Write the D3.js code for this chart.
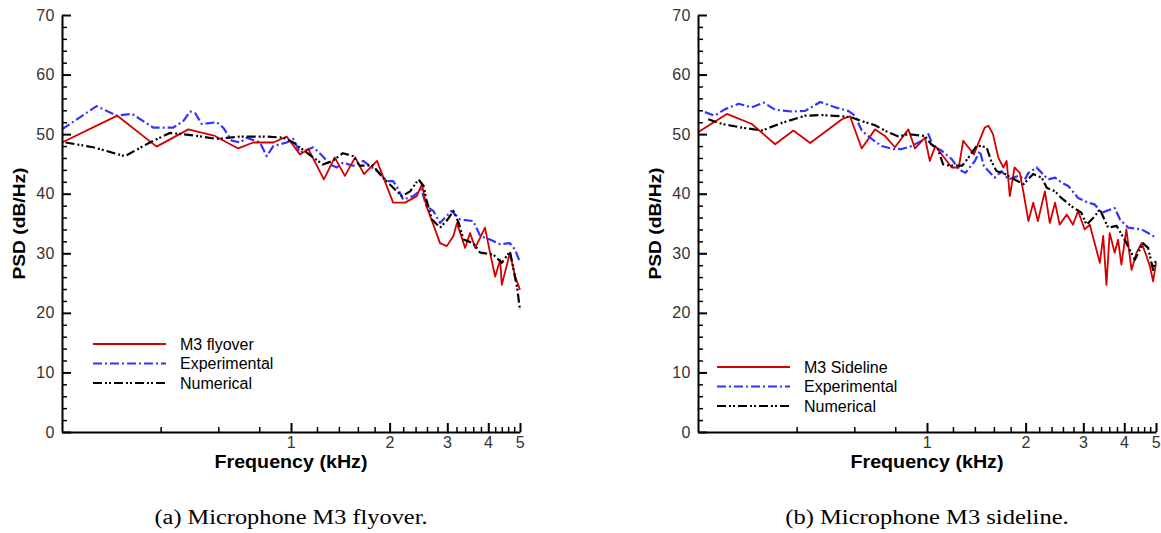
<!DOCTYPE html>
<html>
<head>
<meta charset="utf-8">
<script src="https://cdn.jsdelivr.net/npm/d3@7"></script>
<style>
  body { margin: 0; background: #fff; }
  svg { display: block; font-family: "Liberation Sans", Arial, sans-serif; }
  .tick text { font-size: 16px; fill: #333; letter-spacing: 0.5px; }
  .caption { font-family: "Liberation Serif", serif; font-size: 20px; }
</style>
</head>
<body>
<svg id="chart" width="1161" height="533"></svg>
<script>
// frequency in kHz, PSD in dB/Hz
var flyoverM3 = [[0.2,48.6],[0.295,53.1],[0.389,47.9],[0.486,50.8],[0.586,49.7],[0.69,47.6],[0.767,48.6],[0.883,48.6],[0.97,49.6],[1.065,46.6],[1.13,47.5],[1.26,42.4],[1.36,46.1],[1.46,43.0],[1.57,46.1],[1.67,43.3],[1.83,45.5],[2.05,38.5],[2.23,38.5],[2.42,39.6],[2.51,41.6],[2.59,37.9],[2.72,34.8],[2.85,31.7],[2.99,31.2],[3.13,32.9],[3.21,35.1],[3.4,30.9],[3.52,33.4],[3.65,30.9],[3.91,34.3],[4.05,30.1],[4.2,26.1],[4.35,28.9],[4.4,24.7],[4.66,30.1],[4.83,26.1],[5.0,23.9]];

var flyoverExp = [[0.2,50.8],[0.255,54.7],[0.294,53.1],[0.327,53.4],[0.38,51.1],[0.437,51.1],[0.469,52.2],[0.492,53.8],[0.51,53.5],[0.534,51.7],[0.593,52.0],[0.621,51.1],[0.659,48.9],[0.7,48.6],[0.732,49.4],[0.804,48.6],[0.843,46.3],[0.883,48.0],[0.97,48.6],[1.016,49.2],[1.065,46.9],[1.17,47.8],[1.25,46.3],[1.315,44.9],[1.38,44.4],[1.44,45.2],[1.55,44.7],[1.66,45.5],[1.83,43.8],[1.96,42.1],[2.05,42.1],[2.1,41.3],[2.2,39.0],[2.36,39.6],[2.5,40.7],[2.59,37.9],[2.72,37.1],[2.85,35.1],[3.09,37.1],[3.28,35.7],[3.6,35.4],[3.78,32.9],[4.05,32.3],[4.35,31.5],[4.66,31.7],[4.83,30.6],[5.0,28.5]];

var flyoverNum = [[0.205,48.6],[0.249,47.8],[0.311,46.3],[0.371,48.6],[0.427,50.2],[0.503,49.8],[0.593,49.2],[0.699,49.6],[0.843,49.6],[0.947,49.4],[1.016,48.6],[1.117,46.9],[1.25,44.9],[1.34,45.5],[1.44,46.8],[1.55,46.3],[1.62,44.7],[1.78,44.7],[1.89,43.0],[2.0,41.6],[2.18,39.6],[2.31,40.4],[2.45,42.4],[2.54,41.3],[2.59,39.0],[2.69,35.7],[2.85,34.3],[2.99,35.5],[3.13,37.1],[3.25,35.1],[3.36,32.3],[3.6,31.7],[3.78,30.1],[4.14,29.8],[4.4,28.4],[4.66,30.3],[4.78,27.2],[4.9,24.2],[5.0,20.5]];

var sidelineM3 = [[0.2,50.3],[0.245,53.4],[0.292,51.7],[0.344,48.3],[0.391,50.6],[0.44,48.5],[0.55,52.5],[0.582,53.0],[0.632,47.6],[0.694,50.8],[0.744,49.7],[0.798,47.8],[0.877,50.8],[0.919,47.6],[0.986,49.4],[1.02,45.5],[1.06,48.0],[1.12,46.3],[1.19,44.4],[1.25,44.4],[1.29,48.9],[1.39,46.6],[1.5,51.1],[1.54,51.4],[1.59,50.0],[1.65,46.1],[1.71,44.4],[1.75,45.5],[1.79,39.6],[1.85,44.4],[1.92,43.5],[1.97,40.2],[2.04,35.4],[2.11,38.5],[2.18,35.4],[2.29,40.4],[2.37,35.1],[2.46,38.5],[2.54,34.8],[2.67,36.5],[2.79,34.8],[2.89,37.1],[3.03,34.0],[3.14,34.8],[3.25,31.7],[3.37,28.4],[3.45,32.9],[3.53,24.7],[3.61,33.4],[3.74,30.1],[3.83,32.3],[3.92,28.1],[4.06,34.0],[4.21,27.2],[4.36,30.1],[4.52,31.7],[4.68,29.5],[4.79,27.8],[4.9,25.3],[5.0,28.4]];

var sidelineExp = [[0.21,53.7],[0.225,53.1],[0.242,54.2],[0.266,55.1],[0.292,54.5],[0.317,55.3],[0.344,54.1],[0.386,53.8],[0.425,53.9],[0.472,55.4],[0.525,54.5],[0.575,53.9],[0.603,53.1],[0.632,50.6],[0.678,49.2],[0.727,48.0],[0.789,47.5],[0.837,47.5],[0.898,48.0],[0.986,49.2],[1.01,50.0],[1.045,48.0],[1.11,47.2],[1.19,45.8],[1.25,44.1],[1.31,43.5],[1.4,45.5],[1.45,47.2],[1.49,44.7],[1.54,43.8],[1.61,42.7],[1.69,43.8],[1.77,42.4],[1.9,43.0],[1.99,42.4],[2.04,43.5],[2.16,44.4],[2.24,43.5],[2.34,42.4],[2.46,42.7],[2.57,41.9],[2.7,41.3],[2.89,39.3],[3.1,38.5],[3.25,38.2],[3.41,36.8],[3.74,37.6],[3.88,35.7],[4.11,34.3],[4.52,34.0],[4.73,33.4],[5.0,32.6]];

var sidelineNum = [[0.215,52.5],[0.237,51.7],[0.272,51.1],[0.313,50.6],[0.361,51.9],[0.425,53.1],[0.478,53.2],[0.55,53.0],[0.589,52.8],[0.632,52.2],[0.694,51.5],[0.762,50.3],[0.818,49.6],[0.877,50.0],[0.986,49.7],[1.03,48.3],[1.08,47.5],[1.12,44.9],[1.19,44.7],[1.28,44.7],[1.34,46.1],[1.42,48.1],[1.52,47.8],[1.57,45.5],[1.63,43.8],[1.73,43.3],[1.85,42.4],[1.97,41.6],[2.11,43.3],[2.24,42.7],[2.32,41.0],[2.46,40.4],[2.57,39.3],[2.76,37.9],[2.96,36.8],[3.07,34.8],[3.25,36.2],[3.37,37.4],[3.57,34.3],[3.79,34.6],[4.01,32.3],[4.31,28.9],[4.56,31.7],[4.73,30.9],[4.9,27.2],[5.0,28.9]];

var yMajorTicks = [0, 10, 20, 30, 40, 50, 60, 70];
var yMinorTicks = [2,4,6,8,12,14,16,18,22,24,26,28,32,34,36,38,42,44,46,48,52,54,56,58,62,64,66,68];
var xMajorTicks = [1, 2, 3, 4, 5];
var xMinorTicks = [0.4,0.6,0.8,1.2,1.4,1.6,1.8,2.2,2.4,2.6,2.8,3.2,3.4,3.6,3.8,4.2,4.4,4.6,4.8];

var svg = d3.select("#chart");
var plotTop = 15, plotBottom = 432;

var styles = {
  m3:  { color: "#d40000", dash: null, width: 1.8 },
  exp: { color: "#3333ff", dash: "9,3,2,3", width: 2.2 },
  num: { color: "#000000", dash: "9,3,2,2,2,3", width: 2.2 }
};

var panels = [
  { left: 62, right: 520, legendX: 93, legendY: 344, yTitleX: 19, caption: "(a) Microphone M3 flyover.",
    series: [
      { name: "M3 flyover", data: flyoverM3, style: styles.m3 },
      { name: "Experimental", data: flyoverExp, style: styles.exp },
      { name: "Numerical", data: flyoverNum, style: styles.num }
    ] },
  { left: 698, right: 1156, legendX: 717, legendY: 367, yTitleX: 655, caption: "(b) Microphone M3 sideline.",
    series: [
      { name: "M3 Sideline", data: sidelineM3, style: styles.m3 },
      { name: "Experimental", data: sidelineExp, style: styles.exp },
      { name: "Numerical", data: sidelineNum, style: styles.num }
    ] }
];

panels.forEach(function (p) {
  var x = d3.scaleLog().domain([0.2, 5]).range([p.left, p.right]);
  var y = d3.scaleLinear().domain([0, 70]).range([plotBottom, plotTop]);
  var g = svg.append("g");
  var line = d3.line().x(function (d) { return x(d[0]); }).y(function (d) { return y(d[1]); });

  // curves (measured ones under the numerical one)
  [1, 0, 2].forEach(function (k) {
    var s = p.series[k];
    g.append("path")
      .datum(s.data)
      .attr("d", line)
      .attr("fill", "none")
      .attr("stroke", s.style.color)
      .attr("stroke-width", s.style.width)
      .attr("stroke-linejoin", "round")
      .attr("stroke-dasharray", s.style.dash);
  });

  // minor ticks
  var ym = g.append("g").attr("transform", "translate(" + p.left + ",0)")
    .call(d3.axisLeft(y).tickValues(yMinorTicks).tickSize(-5).tickFormat(""));
  var xm = g.append("g").attr("transform", "translate(0," + plotBottom + ")")
    .call(d3.axisBottom(x).tickValues(xMinorTicks).tickSize(-5).tickFormat(""));
  ym.select(".domain").remove();
  xm.select(".domain").remove();
  g.selectAll(".tick line").attr("stroke-width", 1.5);

  // major ticks and labels
  var ya = g.append("g").attr("transform", "translate(" + p.left + ",0)")
    .call(d3.axisLeft(y).tickValues(yMajorTicks).tickSizeInner(-9).tickSizeOuter(0).tickPadding(7));
  var xa = g.append("g").attr("transform", "translate(0," + plotBottom + ")")
    .call(d3.axisBottom(x).tickValues(xMajorTicks).tickFormat(d3.format("d"))
      .tickSizeInner(-9).tickSizeOuter(0).tickPadding(5));
  [ya, xa].forEach(function (a) {
    a.attr("font-family", null).attr("font-size", null);
    a.select(".domain").attr("stroke-width", 2);
    a.selectAll(".tick line").attr("stroke-width", 2);
  });

  // axis titles
  g.append("text")
    .attr("transform", "translate(" + p.yTitleX + "," + ((plotTop + plotBottom) / 2) + ") rotate(-90)")
    .attr("text-anchor", "middle")
    .attr("dy", "0.35em")
    .attr("font-size", 17).attr("font-weight", "bold")
    .attr("textLength", 112).attr("lengthAdjust", "spacingAndGlyphs")
    .text("PSD (dB/Hz)");
  g.append("text")
    .attr("x", x(1)).attr("y", 468)
    .attr("text-anchor", "middle")
    .attr("font-size", 18).attr("font-weight", "bold")
    .attr("textLength", 153).attr("lengthAdjust", "spacingAndGlyphs")
    .text("Frequency (kHz)");

  // legend
  var lg = g.append("g").attr("transform", "translate(" + p.legendX + "," + p.legendY + ")");
  p.series.forEach(function (s, i) {
    var row = lg.append("g").attr("transform", "translate(0," + (i * 19.5) + ")");
    row.append("line")
      .attr("x1", 0).attr("x2", 73)
      .attr("stroke", s.style.color)
      .attr("stroke-width", 2)
      .attr("stroke-dasharray", s.style.dash);
    row.append("text")
      .attr("x", 87).attr("dy", "0.36em")
      .attr("font-size", 16)
      .text(s.name);
  });

  // caption
  g.append("text")
    .attr("class", "caption")
    .attr("x", x(1)).attr("y", 524)
    .attr("text-anchor", "middle")
    .attr("textLength", p.caption.length * 10.5).attr("lengthAdjust", "spacingAndGlyphs")
    .text(p.caption);
});
</script>
</body>
</html>
